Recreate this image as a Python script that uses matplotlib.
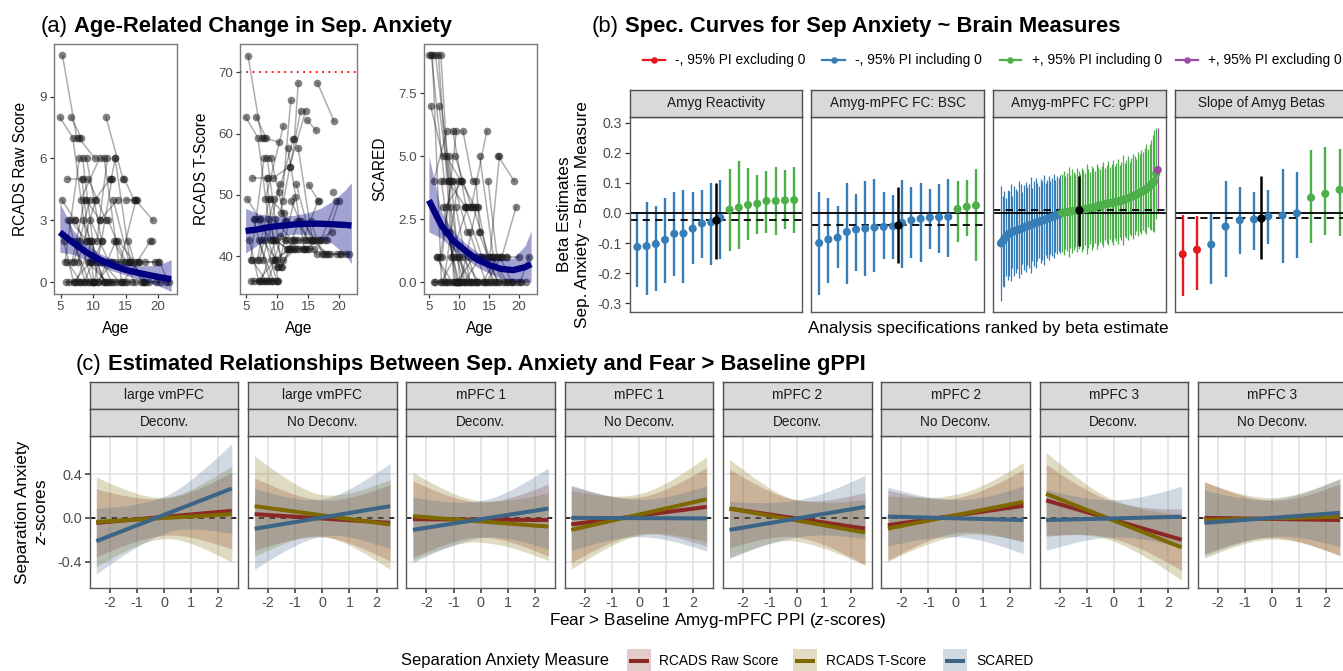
import numpy as np
import matplotlib
matplotlib.use("Agg")
import matplotlib.pyplot as plt
from matplotlib.patches import Rectangle
from matplotlib.colors import to_rgb

plt.rcParams['font.family'] = ['Liberation Sans', 'DejaVu Sans']
plt.rcParams['mathtext.fontset'] = 'custom'
plt.rcParams['mathtext.rm'] = 'Liberation Sans'
plt.rcParams['mathtext.it'] = 'Liberation Sans:italic'

# ---------------- Panel (a) data: longitudinal observations ----------------
subject_id = [1,1, 2,2,2, 3,3, 4,4, 5,5,5, 6,6, 7,7, 8,8, 9,9,9, 10,10, 11,11, 12,12, 13,13, 14,14,
              15,15,15, 16,16, 17,17, 18,18, 19,19, 20,20,20, 21,21, 22,22, 23,23, 24,24, 25,25, 26,26,
              27,27, 28,28, 29,29, 30,30, 31,31, 32,32, 33,33, 34,34, 35,35, 36,36, 37,37, 38,38, 39,39,
              40,40, 41,41, 42,42, 43,43, 44,44, 45,45, 46,46, 47,47, 48,48, 49,49, 50,50, 51,51, 52,52,
              53,53, 54, 55,55, 56, 57, 58, 59,59, 60,60, 61,61, 62,62, 63,63, 64,64, 65,65, 66,66, 67,67,
              68,68, 69,69, 70,70, 71,71, 72,72]
age = [5.3,7.5, 4.9,6.9,9.0, 6.6,8.2, 5.2,7.2, 5.5,7.0,9.6, 5.7,7.9, 6.0,8.5, 6.2,8.8, 6.3,8.0,10.0, 6.5,9.1,
       6.8,8.7, 7.0,9.4, 7.1,9.5, 7.4,9.8, 7.6,9.9,11.9, 7.7,10.4, 7.8,10.3, 8.1,11.0, 8.3,10.1, 8.4,10.7,12.9,
       8.6,11.4, 8.9,11.1, 9.2,12.1, 9.3,12.0, 9.6,12.4, 9.7,11.6, 10.0,13.0, 10.3,12.6, 10.5,13.3, 10.6,12.2,
       10.8,13.5, 11.0,13.8, 11.3,14.1, 11.7,14.4, 12.0,14.6, 12.3,15.0, 12.5,15.2, 12.8,13.4, 13.1,15.5,
       13.4,15.7, 13.6,16.0, 13.9,16.3, 14.2,16.6, 14.5,17.0, 14.8,16.3, 15.1,16.7, 15.4,17.3, 15.9,18.2,
       16.5,19.2, 17.1,19.5, 17.6,20.3, 18.0,20.0, 18.6,21.2, 19.0, 20.2,21.6, 17.8, 19.6, 14.9, 6.0,8.2,
       7.3,9.7, 5.8,7.7, 8.0,9.9, 9.0,11.3, 11.5,12.8, 7.0,9.2, 10.2,12.9, 13.2,16.4, 15.6,17.9, 12.7,14.7,
       16.8,18.8, 8.5,10.9, 9.4,11.8]
rcads_raw = [11,7, 8,7,2, 8,7, 4,3, 2,0,1, 1,6, 5,5, 3,0, 0,0,0, 3,2, 1,4, 2,0, 1,4, 0,2, 2,1,0, 1,4, 7,6,
             4,6, 5,0, 6,0,1, 0,2, 4,3, 1,0, 5,3, 3,1, 2,0, 0,0, 4,5, 1,1, 2,6, 0,2, 3,4, 1,0, 6,0, 8,5, 3,1,
             0,0, 5,6, 4,1, 6,1, 0,0, 2,1, 1,4, 0,1, 5,4, 4,4, 2,0, 1,0, 4,3, 1,1, 0,0, 1,1, 0,0, 2, 1,0, 0,
             0, 0, 1,0, 3,1, 0,0, 2,0, 6,2, 1,0, 0,0, 0,5, 2,0, 1,0, 1,1, 1,2, 3,1, 2,0]
rcads_t = [72.7,59.3, 62.7,59.3,42.7, 62.7,59.3, 49.3,46.0, 42.7,36.0,39.3, 39.3,56.0, 52.7,52.7, 46.0,36.0,
           36.0,36.0,36.0, 46.0,42.7, 39.3,49.3, 42.7,36.0, 39.3,49.3, 36.0,42.7, 42.7,39.3,41.2, 39.3,51.8,
           59.3,58.6, 49.3,61.2, 52.7,36.0, 56.0,38.3,42.6, 36.0,45.7, 49.3,47.0, 39.3,41.2, 52.7,54.6,
           46.0,42.6, 42.7,41.2, 38.3,41.2, 50.5,59.1, 43.3,42.6, 47.0,65.4, 38.3,45.7, 49.0,63.7, 42.6,41.2,
           57.7,41.2, 54.6,63.7, 49.0,42.6, 41.2,41.2, 59.1,68.2, 51.7,42.6, 57.7,42.6, 41.2,41.2, 45.7,42.6,
           42.6,49.0, 41.2,42.6, 62.2,60.5, 51.6,49.0, 45.7,40.3, 42.6,40.3, 68.3,62.0, 42.6,49.0, 40.3,40.3,
           42.6,49.0, 40.3,40.3, 50.4, 40.3,40.3, 42.6, 40.3, 41.2, 39.3,36.0, 46.0,39.3, 36.0,36.0, 42.7,36.0,
           56.0,45.7, 42.6,41.2, 36.0,36.0, 38.3,49.7, 45.7,40.3, 42.6,40.3, 42.6,42.6, 42.6,44.0, 46.0,39.3,
           42.7,41.2]
scared = [9,4, 9,9,1, 7,4, 7,5, 9,0,0, 4,6, 9,4, 1,0, 1,0,0, 9,0, 1,4, 4,0, 1,6, 0,4, 2,1,0, 3,4, 5,4, 4,3,
          5,0, 2,0,0, 1,3, 6,3, 0,0, 5,3, 0,1, 1,0, 0,0, 4,3, 1,0, 6,4, 0,1, 3,1, 0,0, 2,0, 3,6, 3,1, 0,0,
          4,2, 3,0, 5,1, 1,0, 0,1, 1,0, 0,1, 4,1, 1,5, 1,0, 0,0, 5,4, 1,3, 0,0, 1,1, 0,0, 0, 0,1, 1, 0, 0,
          0,0, 3,0, 0,0, 2,0, 4,2, 1,0, 0,1, 0,3, 2,0, 1,0, 1,1, 1,0, 3,0, 3,0]

# smooth fits
fit_age = [4.9, 7, 9, 11, 13, 15, 17, 19, 21, 22]
raw_fit = [2.42, 1.90, 1.45, 1.10, 0.82, 0.60, 0.45, 0.32, 0.20, 0.15]
raw_lo = [1.45, 1.35, 1.05, 0.80, 0.55, 0.35, 0.15, -0.05, -0.30, -0.45]
raw_hi = [3.85, 2.50, 1.85, 1.40, 1.10, 0.90, 0.80, 0.80, 0.95, 1.10]
t_fit = [44.1, 44.4, 44.8, 45.0, 45.2, 45.3, 45.3, 45.2, 45.1, 45.0]
t_lo = [40.5, 41.9, 42.9, 43.4, 43.6, 43.5, 43.0, 42.0, 40.2, 38.8]
t_hi = [47.8, 46.9, 46.6, 46.5, 46.7, 47.1, 47.8, 49.0, 50.8, 52.0]
sc_fit = [3.25, 2.25, 1.65, 1.25, 0.90, 0.68, 0.53, 0.48, 0.60, 0.72]
sc_lo = [2.00, 1.75, 1.30, 0.95, 0.60, 0.35, 0.15, 0.05, 0.02, 0.00]
sc_hi = [5.00, 2.80, 2.00, 1.55, 1.20, 1.00, 0.90, 0.95, 1.45, 2.05]

# ---------------- Panel (b) data: specification curves ----------------
b_facets = ["Amyg Reactivity", "Amyg-mPFC FC: BSC", "Amyg-mPFC FC: gPPI", "Slope of Amyg Betas"]
react_est = [-0.113, -0.110, -0.103, -0.089, -0.069, -0.068, -0.052, -0.035, -0.031, -0.016,
             0.011, 0.018, 0.027, 0.031, 0.040, 0.040, 0.042, 0.043]
react_lo = [-0.246, -0.271, -0.260, -0.233, -0.211, -0.233, -0.170, -0.151, -0.173, -0.154,
            -0.126, -0.121, -0.090, -0.070, -0.068, -0.074, -0.054, -0.066]
react_hi = [0.003, 0.036, 0.023, 0.049, 0.069, 0.077, 0.069, 0.077, 0.099, 0.110,
            0.146, 0.174, 0.148, 0.127, 0.141, 0.154, 0.144, 0.152]
bsc_est = [-0.100, -0.088, -0.082, -0.063, -0.055, -0.052, -0.048, -0.046, -0.044, -0.033,
           -0.024, -0.019, -0.015, -0.014, -0.013, 0.013, 0.021, 0.025]
bsc_lo = [-0.274, -0.231, -0.184, -0.236, -0.192, -0.208, -0.197, -0.153, -0.153, -0.184,
          -0.151, -0.164, -0.118, -0.134, -0.147, -0.096, -0.076, -0.159]
bsc_hi = [0.071, 0.049, 0.022, 0.099, 0.064, 0.105, 0.113, 0.071, 0.060, 0.111,
          0.088, 0.100, 0.080, 0.095, 0.113, 0.105, 0.108, 0.146]
gppi_est = [-0.101, -0.094, -0.086, -0.079, -0.073, -0.068, -0.065, -0.063, -0.061, -0.059,
            -0.057, -0.055, -0.053, -0.051, -0.048, -0.046, -0.044, -0.042, -0.040, -0.038,
            -0.035, -0.033, -0.031, -0.029, -0.027, -0.025, -0.023, -0.021, -0.019, -0.017,
            -0.015, -0.013, -0.011, -0.009, -0.007, -0.005, -0.003,
            0.0005, 0.001, 0.002, 0.003, 0.004, 0.005, 0.006, 0.007, 0.008, 0.009,
            0.009, 0.010, 0.011, 0.012, 0.013, 0.014, 0.015, 0.016, 0.017, 0.018,
            0.020, 0.022, 0.023, 0.025, 0.026, 0.028, 0.029, 0.031, 0.032, 0.033,
            0.034, 0.035, 0.036, 0.037, 0.038, 0.040, 0.041, 0.043, 0.045, 0.047,
            0.049, 0.051, 0.053, 0.055, 0.058, 0.061, 0.064, 0.067, 0.070, 0.073,
            0.076, 0.080, 0.084, 0.088, 0.094, 0.100, 0.106, 0.131,
            0.143]
gppi_halfwidth = [0.19, 0.15, 0.16, 0.13, 0.15, 0.14, 0.16, 0.12, 0.15, 0.14,
                  0.13, 0.16, 0.15, 0.12, 0.14, 0.15, 0.13, 0.14, 0.16, 0.12,
                  0.14, 0.15, 0.13, 0.12, 0.14, 0.13, 0.15, 0.12, 0.13, 0.14,
                  0.12, 0.13, 0.14, 0.12, 0.13, 0.12, 0.13,
                  0.13, 0.14, 0.12, 0.13, 0.15, 0.12, 0.14, 0.13, 0.12, 0.14,
                  0.13, 0.12, 0.14, 0.13, 0.12, 0.15, 0.13, 0.12, 0.14, 0.13,
                  0.12, 0.14, 0.13, 0.12, 0.13, 0.14, 0.12, 0.13, 0.14, 0.12,
                  0.13, 0.14, 0.12, 0.13, 0.14, 0.12, 0.13, 0.15, 0.12, 0.13,
                  0.14, 0.12, 0.13, 0.14, 0.13, 0.12, 0.14, 0.13, 0.14, 0.13,
                  0.14, 0.15, 0.13, 0.14, 0.15, 0.16, 0.17, 0.15,
                  0.14]
slope_est = [-0.137, -0.122, -0.105, -0.045, -0.024, -0.021, -0.011, -0.008, -0.001, 0.051, 0.064, 0.077]
slope_lo = [-0.277, -0.255, -0.235, -0.213, -0.137, -0.123, -0.104, -0.167, -0.148, -0.101, -0.074, -0.077]
slope_hi = [-0.005, -0.011, 0.002, 0.105, 0.086, 0.069, 0.078, 0.146, 0.135, 0.210, 0.218, 0.214]
median_lo = [-0.153, -0.165, -0.109, -0.154]
median_hi = [0.100, 0.086, 0.124, 0.122]
b_legend = ["-, 95% PI excluding 0", "-, 95% PI including 0", "+, 95% PI including 0", "+, 95% PI excluding 0"]

# ---------------- Panel (c) data: model predictions ----------------
c_roi = ["large vmPFC", "large vmPFC", "mPFC 1", "mPFC 1", "mPFC 2", "mPFC 2", "mPFC 3", "mPFC 3"]
c_deconv = ["Deconv.", "No Deconv.", "Deconv.", "No Deconv.", "Deconv.", "No Deconv.", "Deconv.", "No Deconv."]
measures = ["RCADS Raw Score", "RCADS T-Score", "SCARED"]
# fitted value at x = -2.5 and x = +2.5
raw_left = [-0.046, 0.034, -0.012, -0.060, 0.085, -0.067, 0.160, 0.000]
raw_right = [0.064, -0.046, -0.020, 0.100, -0.098, 0.110, -0.200, -0.020]
tsc_left = [-0.037, 0.107, 0.015, -0.110, 0.085, -0.098, 0.220, -0.020]
tsc_right = [0.034, -0.061, -0.080, 0.170, -0.134, 0.146, -0.270, 0.010]
scd_left = [-0.213, -0.100, -0.110, 0.000, -0.110, 0.012, -0.020, -0.046]
scd_right = [0.268, 0.107, 0.085, -0.005, 0.100, -0.020, 0.010, 0.046]
# 95% band half-widths at x = 0, x = -2.5, x = +2.5
raw_hw_mid = [0.17, 0.17, 0.16, 0.17, 0.17, 0.16, 0.17, 0.17]
raw_hw_left = [0.31, 0.33, 0.35, 0.35, 0.36, 0.32, 0.33, 0.33]
raw_hw_right = [0.35, 0.35, 0.33, 0.36, 0.33, 0.33, 0.28, 0.33]
tsc_hw_mid = [0.19, 0.19, 0.19, 0.19, 0.19, 0.19, 0.19, 0.19]
tsc_hw_left = [0.41, 0.46, 0.40, 0.36, 0.45, 0.30, 0.38, 0.35]
tsc_hw_right = [0.44, 0.41, 0.31, 0.39, 0.30, 0.36, 0.30, 0.35]
scd_hw_mid = [0.17, 0.17, 0.17, 0.17, 0.17, 0.17, 0.17, 0.17]
scd_hw_left = [0.30, 0.37, 0.30, 0.30, 0.26, 0.27, 0.28, 0.30]
scd_hw_right = [0.41, 0.39, 0.37, 0.30, 0.29, 0.31, 0.28, 0.31]

# ---------------- figure ----------------
W, H = 1343, 671
fig = plt.figure(figsize=(W / 100, H / 100), dpi=100)
fig.patch.set_facecolor('white')

BORDER = '#595959'
TICKC = '#333333'
TLAB = '#4D4D4D'


def px_axes(x0, y0, x1, y1, z=1):
    return fig.add_axes([x0 / W, 1 - y1 / H, (x1 - x0) / W, (y1 - y0) / H], zorder=z)


def frame(ax, lw=1.0, color=BORDER):
    for s in ax.spines.values():
        s.set_color(color)
        s.set_linewidth(lw)


def strip(x0, y0, x1, y1, label):
    ax = px_axes(x0, y0, x1, y1)
    ax.set_facecolor('#D9D9D9')
    ax.set_xticks([])
    ax.set_yticks([])
    frame(ax, 1.0, '#4D4D4D')
    ax.text(0.5, 0.5, label, transform=ax.transAxes, ha='center', va='center',
            fontsize=9.8, color='#1A1A1A')


ov = fig.add_axes([0, 0, 1, 1], zorder=30)
ov.set_xlim(0, W)
ov.set_ylim(H, 0)
ov.axis('off')
renderer = fig.canvas.get_renderer()


def title(x, y, tag, text):
    t = ov.text(x, y, tag, fontsize=15.8, va='baseline', ha='left')
    w = t.get_window_extent(renderer=renderer).width
    ov.text(x + w + 6, y, text, fontsize=15.8, fontweight='bold', va='baseline', ha='left')


# ---------- Panel (a) ----------
title(40.5, 32, "(a)", "Age-Related Change in Sep. Anxiety")
a_boxes = [(54, 44, 177, 293.6), (240, 44, 357, 293.6), (423.5, 44, 536.5, 293.6)]
a_scores = [rcads_raw, rcads_t, scared]
a_fits = [(raw_fit, raw_lo, raw_hi), (t_fit, t_lo, t_hi), (sc_fit, sc_lo, sc_hi)]
a_ylims = [(-0.55, 11.55), (33.9, 74.6), (-0.45, 9.45)]
a_yticks = [[0, 3, 6, 9], [40, 50, 60, 70], [0, 2.5, 5, 7.5]]
a_yticklabels = [['0', '3', '6', '9'], ['40', '50', '60', '70'], ['0.0', '2.5', '5.0', '7.5']]
a_ylabels = ['RCADS Raw Score', 'RCADS T-Score', 'SCARED']
a_ylabel_x = [21, 201, 380]
sid = np.array(subject_id)
ag = np.array(age, float)
assert len(sid) == len(ag) == len(rcads_raw) == len(rcads_t) == len(scared)
for i in range(3):
    x0, y0, x1, y1 = a_boxes[i]
    ax = px_axes(x0, y0, x1, y1)
    sc = np.array(a_scores[i], float)
    for s in np.unique(sid):
        m = sid == s
        if m.sum() > 1:
            ax.plot(ag[m], sc[m], color='black', alpha=0.32, lw=1.1, zorder=2)
    ax.scatter(ag, sc, s=30, color='#1A1A1A', alpha=0.55, lw=0, zorder=3)
    f, lo, hi = a_fits[i]
    ax.fill_between(fit_age, lo, hi, color='#000080', alpha=0.36, lw=0, zorder=4)
    ax.plot(fit_age, f, color='#000080', lw=4.6, zorder=5, solid_capstyle='butt')
    if i == 1:
        ax.axhline(70, color='red', ls=(0, (1, 2.5)), lw=1.3, zorder=1)
    ax.set_xlim(4.0, 22.9)
    ax.set_ylim(*a_ylims[i])
    ax.set_xticks([5, 10, 15, 20])
    ax.set_xticklabels(['5', '10', '15', '20'])
    ax.set_yticks(a_yticks[i])
    ax.set_yticklabels(a_yticklabels[i])
    ax.tick_params(length=3, width=0.9, color=TICKC, labelcolor=TLAB, labelsize=9.6, pad=2)
    frame(ax, 1.0, '#7A7A7A')
    ov.text(a_ylabel_x[i], (y0 + y1) / 2, a_ylabels[i], rotation=90, ha='center', va='center', fontsize=11.2)
    ov.text((x0 + x1) / 2, 329, 'Age', ha='center', va='center', fontsize=11.2)

# ---------- Panel (b) ----------
title(592, 32, "(b)", "Spec. Curves for Sep Anxiety ~ Brain Measures")
C_RED, C_BLUE, C_GREEN, C_PURP = '#E41A1C', '#377EB8', '#4DAF4A', '#984EA3'
leg_cols = [C_RED, C_BLUE, C_GREEN, C_PURP]
leg_seg = [(643, 665), (822, 845), (999.5, 1021), (1176, 1198)]
leg_txt = [675, 855, 1032.5, 1208]
for c, (s0, s1), tx, lab in zip(leg_cols, leg_seg, leg_txt, b_legend):
    ov.plot([s0, s1], [60, 60], color=c, lw=1.6)
    ov.scatter([(s0 + s1) / 2], [60], s=22, color=c, lw=0)
    ov.text(tx, 60, lab, ha='left', va='center', fontsize=9.9)

gppi_lo = [e - h for e, h in zip(gppi_est, gppi_halfwidth)]
gppi_hi = [e + h for e, h in zip(gppi_est, gppi_halfwidth)]
b_est = [react_est, bsc_est, gppi_est, slope_est]
b_lo = [react_lo, bsc_lo, gppi_lo, slope_lo]
b_hi = [react_hi, bsc_hi, gppi_hi, slope_hi]
b_left = [629.5, 811.3, 993.1, 1174.9]
b_w = 172.5
for k in range(4):
    x0 = b_left[k]
    ax = px_axes(x0, 116.7, x0 + b_w, 311.7)
    strip(x0, 90, x0 + b_w, 116.7, b_facets[k])
    e = np.array(b_est[k])
    lo = np.array(b_lo[k])
    hi = np.array(b_hi[k])
    n = len(e)
    r = np.arange(1, n + 1)
    cols = []
    for ei, li, hi_ in zip(e, lo, hi):
        if ei < 0:
            cols.append(C_RED if hi_ < 0 else C_BLUE)
        else:
            cols.append(C_PURP if li > 0 else C_GREEN)
    ax.set_xlim(1 - 0.05 * (n - 1), n + 0.05 * (n - 1))
    ax.set_ylim(-0.328, 0.32)
    med = np.median(e)
    blw = 0.9 if n > 50 else 1.7
    ax.vlines(r, lo, hi, colors=cols, lw=blw, zorder=2)
    ax.axhline(0, color='black', lw=1.3, zorder=2.5)
    ax.axhline(med, color='black', lw=1.3, ls=(0, (4, 3)), zorder=2.5)
    ax.scatter(r, e, s=34, c=cols, lw=0, zorder=3)
    mx = (n + 1) / 2
    ax.vlines([mx], [median_lo[k]], [median_hi[k]], colors='black', lw=1.8, zorder=4)
    ax.scatter([mx], [med], s=36, c='black', lw=0, zorder=5)
    ax.set_xticks([])
    if k == 0:
        yt = [-0.3, -0.2, -0.1, 0.0, 0.1, 0.2, 0.3]
        ax.set_yticks(yt)
        ax.set_yticklabels([f"{v:.1f}" for v in yt])
        ax.tick_params(axis='y', length=3.5, width=0.9, color=TICKC, labelcolor=TLAB, labelsize=10.2, pad=2)
    else:
        ax.set_yticks([])
    frame(ax, 1.0, BORDER)
ov.text(564.5, 214, 'Beta Estimates', rotation=90, ha='center', va='center', fontsize=12.3)
ov.text(582, 214, 'Sep. Anxiety ~ Brain Measure', rotation=90, ha='center', va='center', fontsize=12.3)
ov.text(988, 328, 'Analysis specifications ranked by beta estimate', ha='center', va='center', fontsize=12.3)

# ---------- Panel (c) ----------
title(76, 370, "(c)", "Estimated Relationships Between Sep. Anxiety and Fear > Baseline gPPI")
M_COLS = ['#8C2823', '#7D6900', '#3C6487']
c_left0, c_step, c_w = 89.8, 158.3, 148.5
xg = np.linspace(-2.5, 2.5, 121)
lefts = [raw_left, tsc_left, scd_left]
rights = [raw_right, tsc_right, scd_right]
hw_mid = [raw_hw_mid, tsc_hw_mid, scd_hw_mid]
hw_l = [raw_hw_left, tsc_hw_left, scd_hw_left]
hw_r = [raw_hw_right, tsc_hw_right, scd_hw_right]
for k in range(8):
    x0 = c_left0 + k * c_step
    ax = px_axes(x0, 435.7, x0 + c_w, 588.3)
    strip(x0, 381.7, x0 + c_w, 408.6, c_roi[k])
    strip(x0, 408.6, x0 + c_w, 435.7, c_deconv[k])
    ax.set_xlim(-2.74, 2.74)
    ax.set_ylim(-0.644, 0.751)
    for v in [-2, -1, 0, 1, 2]:
        ax.axvline(v, color='#E6E6E6', lw=1.3, zorder=0)
    for v in [-0.4, 0.4]:
        ax.axhline(v, color='#E6E6E6', lw=1.3, zorder=0)
    ax.axhline(0, color='#1A1A1A', lw=1.3, ls=(0, (3, 3)), zorder=1)
    for m in range(3):
        yl, yr = lefts[m][k], rights[m][k]
        yc = np.interp(xg, [-2.5, 2.5], [yl, yr])
        h0 = hw_mid[m][k]
        hE = np.where(xg < 0, hw_l[m][k], hw_r[m][k])
        hw = np.sqrt(h0 ** 2 + (hE ** 2 - h0 ** 2) * (xg / 2.5) ** 2)
        ax.fill_between(xg, yc - hw, yc + hw, color=M_COLS[m], alpha=0.24, lw=0, zorder=2)
    for m in range(3):
        ax.plot([-2.5, 2.5], [lefts[m][k], rights[m][k]], color=M_COLS[m], lw=2.9, zorder=3,
                solid_capstyle='butt')
    ax.set_xticks([-2, -1, 0, 1, 2])
    ax.set_xticklabels(['-2', '-1', '0', '1', '2'])
    if k == 0:
        ax.set_yticks([-0.4, 0.0, 0.4])
        ax.set_yticklabels(['-0.4', '0.0', '0.4'])
    else:
        ax.set_yticks([])
    ax.tick_params(length=3.5, width=1.1, color=TICKC, labelcolor=TLAB, labelsize=10.4, pad=2.2)
    frame(ax, 1.0, BORDER)

ov.text(22.5, 512, 'Separation Anxiety', rotation=90, ha='center', va='center', fontsize=12.3)
ov.text(41, 512, '$\\mathit{z}$-scores', rotation=90, ha='center', va='center', fontsize=12.3)
ov.text(718, 621, 'Fear > Baseline Amyg-mPFC PPI ($\\mathit{z}$-scores)', ha='center', va='center', fontsize=12.3)

# legend (c)
ov.text(401, 661, 'Separation Anxiety Measure', ha='left', va='center', fontsize=11.9)
key_x = [626.6, 792.8, 943]
lab_x = [659, 825.5, 976.6]
for m in range(3):
    rgb = np.array(to_rgb(M_COLS[m]))
    light = 1 - 0.24 * (1 - rgb)
    ov.add_patch(Rectangle((key_x[m], 649), 24, 24, facecolor=light, edgecolor='none'))
    ov.plot([key_x[m] + 2, key_x[m] + 22], [661, 661], color=M_COLS[m], lw=2.9, solid_capstyle='butt')
    ov.text(lab_x[m], 661, measures[m], ha='left', va='center', fontsize=9.9)

fig.savefig('out.png', dpi=100)
